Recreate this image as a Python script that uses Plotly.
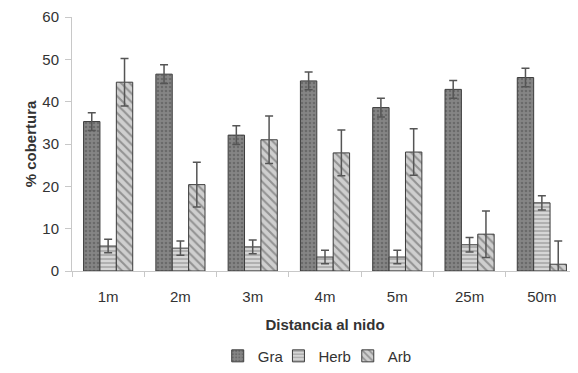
import plotly.graph_objects as go

categories = ["1m", "2m", "3m", "4m", "5m", "25m", "50m"]
gra = [35.3, 46.5, 32.1, 44.9, 38.6, 42.9, 45.7]
gra_err = [2.1, 2.2, 2.2, 2.1, 2.2, 2.1, 2.2]
herb = [5.9, 5.4, 5.7, 3.3, 3.3, 6.2, 16.1]
herb_err = [1.6, 1.7, 1.6, 1.6, 1.6, 1.7, 1.7]
arb = [44.6, 20.4, 31.0, 27.9, 28.1, 8.7, 1.6]
arb_err = [5.6, 5.3, 5.6, 5.4, 5.5, 5.5, 5.5]

font_family = "Liberation Sans, Arial, sans-serif"

def bar(name, y, err, bg, fg, shape, size, legend):
    return go.Bar(
        name=name, x=categories, y=y, legend=legend,
        marker=dict(
            color=bg,
            line=dict(color="#3c3c3c", width=1),
            pattern=dict(shape=shape, fgcolor=fg, fillmode="overlay", size=size, solidity=0.35),
        ),
        error_y=dict(type="data", array=err, visible=True, color="#555555", thickness=1.5, width=4),
    )

fig = go.Figure()
fig.add_trace(bar("Gra", gra, gra_err, "#858585", "#505050", ".", 4, "legend"))
fig.add_trace(bar("Herb", herb, herb_err, "#d6d6d6", "#6a6a6a", "-", 4, "legend2"))
fig.add_trace(bar("Arb", arb, arb_err, "#cfcfcf", "#555555", "\\", 6, "legend3"))

leg_common = dict(orientation="h", xanchor="left", y=-0.335, yanchor="middle",
                  font=dict(size=15, color="#333333"), entrywidth=90, entrywidthmode="pixels",
                  bgcolor="rgba(0,0,0,0)")

# page body has an 8px margin; figure sized/offset to compensate
fig.update_layout(
    width=570, height=365,
    margin=dict(l=64, r=0, t=9, b=95),
    paper_bgcolor="white", plot_bgcolor="white",
    barmode="group", bargap=0.32, bargroupgap=0,
    font=dict(family=font_family, size=15, color="#333333"),
    showlegend=True,
    legend=dict(x=0.288, **leg_common),
    legend2=dict(x=0.408, **leg_common),
    legend3=dict(x=0.545, **leg_common),
    xaxis=dict(
        type="category", showline=True, linecolor="#c8c8c8", linewidth=1,
        ticks="outside", tickson="boundaries", ticklen=5, tickcolor="#c8c8c8",
        showgrid=False, automargin=False, ticklabelstandoff=12,
        title=dict(text="<b>Distancia al nido</b>", font=dict(size=15, color="#333333"), standoff=15),
    ),
    yaxis=dict(
        range=[0, 60], dtick=10, showline=True, linecolor="#c8c8c8", linewidth=1,
        ticks="outside", ticklen=6, tickcolor="#c8c8c8", showgrid=False, zeroline=False,
        automargin=False, ticklabelstandoff=3,
        title=dict(text="<b>% cobertura</b>", font=dict(size=15, color="#333333"), standoff=2),
    ),
)

fig.write_html("out.html")
